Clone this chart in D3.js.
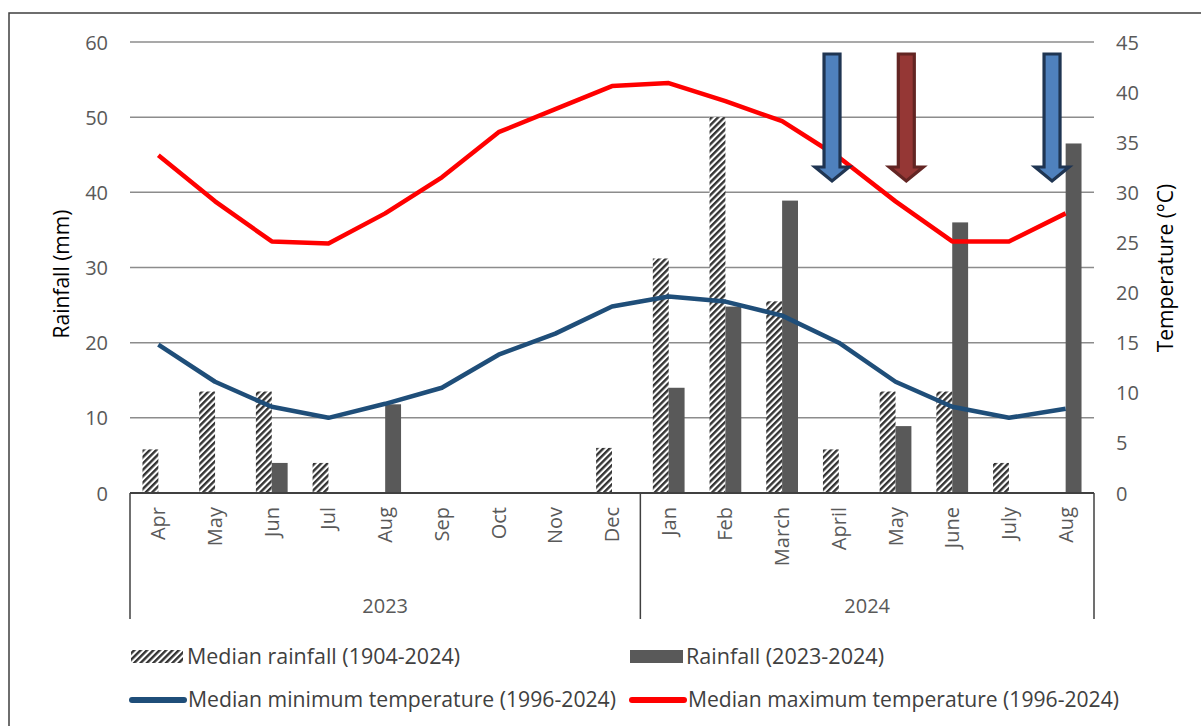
<!DOCTYPE html>
<html><head><meta charset="utf-8">
<script src="https://cdn.jsdelivr.net/npm/d3@7"></script>
<style>body{margin:0;background:#fff;} svg{display:block;font-family:"Open Sans","Noto Sans",sans-serif;}</style>
</head><body>
<svg id="c" width="1201" height="726"></svg>
<script>
const months = ["Apr","May","Jun","Jul","Aug","Sep","Oct","Nov","Dec","Jan","Feb","March","April","May","June","July","Aug"];
const years = [{label:"2023", from:0, to:9},{label:"2024", from:9, to:17}];
const medianRain = [5.8,13.5,13.5,4.0,0,0,0,0,6.0,31.2,50.0,25.5,5.8,13.5,13.5,4.0,0];
const rain2324 = [0,0,4.0,0,11.8,0,0,0,0,14.0,24.8,38.9,0,8.9,36.0,0,46.5];
const maxTemp = [33.7,29.1,25.1,24.9,27.9,31.5,36.0,38.3,40.6,40.9,39.1,37.1,33.5,29.1,25.1,25.1,27.9];
const minTemp = [14.8,11.1,8.6,7.5,8.9,10.5,13.8,15.9,18.6,19.6,19.1,17.7,15.0,11.1,8.6,7.5,8.4];
const rainTicks = [0,10,20,30,40,50,60];
const tempTicks = [0,5,10,15,20,25,30,35,40,45];
// annotation arrows: position along category axis (continuous index) and colours
const arrowPos = [12.38, 13.69, 16.26];
const arrowFill = ["#4f81bd","#953735","#4f81bd"];
const arrowStroke = ["#1f3552","#632523","#1f3552"];
const legendItems = ["Median rainfall (1904-2024)","Rainfall (2023-2024)","Median minimum temperature (1996-2024)","Median maximum temperature (1996-2024)"];

(function(){
const svg = d3.select("#c");
const L=130, R=1094, T=42, B=493;
const idx = d3.range(months.length);
const x = d3.scaleBand().domain(idx).range([L,R]).padding(0);
const xc = d3.scaleLinear().domain([0,months.length]).range([L,R]);
const yR = d3.scaleLinear().domain([0,60]).range([B,T]);
const yT = d3.scaleLinear().domain([0,45]).range([B,T]);

const defs = svg.append("defs");
const pat = defs.append("pattern").attr("id","hatch").attr("patternUnits","userSpaceOnUse")
  .attr("width",4.5).attr("height",4.5).attr("patternTransform","rotate(45)");
pat.append("rect").attr("width",4.5).attr("height",4.5).attr("fill","#fff");
pat.append("rect").attr("x",0).attr("width",2.4).attr("height",4.5).attr("fill","#333");

svg.append("path").attr("d","M9,740 V13 H1220").attr("fill","none").attr("stroke","#3f3f3f").attr("stroke-width",1.5);

svg.append("g").selectAll("line").data(rainTicks.filter(d=>d>0)).join("line")
  .attr("x1",L).attr("x2",R).attr("y1",d=>yR(d)).attr("y2",d=>yR(d))
  .attr("stroke","#8c8c8c").attr("stroke-width",1.5);

const ax = d3.axisLeft(yR).tickValues(rainTicks).tickSize(0).tickPadding(22);
const gl = svg.append("g").attr("transform",`translate(${L},0)`).call(ax);
gl.select(".domain").remove();
gl.selectAll("text").attr("fill","#595959").attr("font-size",20).attr("font-family","Open Sans").attr("dy","0.35em");

const axr = d3.axisRight(yT).tickValues(tempTicks).tickSize(0).tickPadding(22);
const gr = svg.append("g").attr("transform",`translate(${R},0)`).call(axr);
gr.select(".domain").remove();
gr.selectAll("text").attr("fill","#595959").attr("font-size",20).attr("font-family","Open Sans").attr("dy","0.35em");

svg.append("text").attr("transform","translate(69,274) rotate(-90)").attr("text-anchor","middle")
  .attr("font-size",21).attr("fill","#000").text("Rainfall (mm)");
svg.append("text").attr("transform","translate(1173,268) rotate(-90)").attr("text-anchor","middle")
  .attr("font-size",21).attr("fill","#000").text("Temperature (°C)");

const bw = x.bandwidth()*0.28;
svg.append("g").selectAll("rect").data(idx.filter(i=>medianRain[i]>0)).join("rect")
  .attr("x",i=>x(i)+x.bandwidth()/2-bw).attr("width",bw)
  .attr("y",i=>yR(medianRain[i])).attr("height",i=>B-yR(medianRain[i]))
  .attr("fill","url(#hatch)");
svg.append("g").selectAll("rect").data(idx.filter(i=>rain2324[i]>0)).join("rect")
  .attr("x",i=>x(i)+x.bandwidth()/2).attr("width",bw)
  .attr("y",i=>yR(rain2324[i])).attr("height",i=>B-yR(rain2324[i]))
  .attr("fill","#595959");

const axisCol="#404040";
svg.append("line").attr("x1",L).attr("x2",R).attr("y1",B).attr("y2",B).attr("stroke",axisCol).attr("stroke-width",1.8);
const seps = [0,9,17];
svg.append("g").selectAll("line").data(seps).join("line")
  .attr("x1",d=>xc(d)).attr("x2",d=>xc(d)).attr("y1",B).attr("y2",619)
  .attr("stroke",axisCol).attr("stroke-width",1.5);
svg.append("g").selectAll("text").data(idx).join("text")
  .attr("transform",i=>`translate(${x(i)+x.bandwidth()/2+7},507) rotate(-90)`)
  .attr("text-anchor","end").attr("font-size",20).attr("fill","#595959").text(i=>months[i]);
svg.append("g").selectAll("text").data(years).join("text")
  .attr("x",d=>(xc(d.from)+xc(d.to))/2).attr("y",613).attr("text-anchor","middle")
  .attr("font-size",20).attr("fill","#595959").text(d=>d.label);

const lineGen = arr => d3.line().x(i=>x(i)+x.bandwidth()/2).y(i=>yT(arr[i]))(idx);
svg.append("path").attr("d",lineGen(minTemp)).attr("fill","none").attr("stroke","#1f4e79").attr("stroke-width",4.5).attr("stroke-linejoin","round");
svg.append("path").attr("d",lineGen(maxTemp)).attr("fill","none").attr("stroke","#ff0000").attr("stroke-width",4.5).attr("stroke-linejoin","round");

const aTop=54, headY=167, tip=181, sw=8, hw=17;
svg.append("g").selectAll("path").data(arrowPos).join("path")
  .attr("d",p=>{const c=xc(p);return `M${c-sw},${aTop} H${c+sw} V${headY} H${c+hw} L${c},${tip} L${c-hw},${headY} H${c-sw} Z`;})
  .attr("fill",(d,i)=>arrowFill[i]).attr("stroke",(d,i)=>arrowStroke[i]).attr("stroke-width",3.2).attr("stroke-linejoin","miter");

const lg = svg.append("g");
lg.append("rect").attr("x",131).attr("y",650).attr("width",52).attr("height",13).attr("fill","url(#hatch)");
lg.append("rect").attr("x",630).attr("y",650).attr("width",53).attr("height",13).attr("fill","#595959");
lg.append("line").attr("x1",132).attr("x2",184).attr("y1",700).attr("y2",700).attr("stroke","#1f4e79").attr("stroke-width",6).attr("stroke-linecap","round");
lg.append("line").attr("x1",632).attr("x2",684).attr("y1",700).attr("y2",700).attr("stroke","#ff0000").attr("stroke-width",6).attr("stroke-linecap","round");
const lpos=[[187,664,273],[686,664,198],[188,707,428],[688,707,431]];
lg.selectAll("text").data(legendItems).join("text")
  .attr("x",(d,i)=>lpos[i][0]).attr("y",(d,i)=>lpos[i][1])
  .attr("textLength",(d,i)=>lpos[i][2]).attr("lengthAdjust","spacingAndGlyphs")
  .attr("font-size",21).attr("fill","#404040").text(d=>d);
})();
</script>
</body></html>
